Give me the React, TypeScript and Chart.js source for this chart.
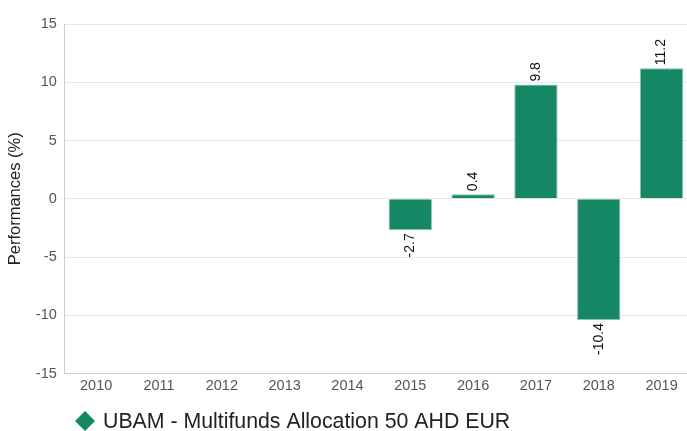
import React, { useEffect, useRef } from "react";
import { Chart, registerables } from "chart.js";

Chart.register(...registerables);

const categories = ["2010", "2011", "2012", "2013", "2014", "2015", "2016", "2017", "2018", "2019"];
const seriesName = "UBAM - Multifunds Allocation 50 AHD EUR";
const seriesValues: (number | null)[] = [null, null, null, null, null, -2.7, 0.4, 9.8, -10.4, 11.2];
const yTicks = [-15, -10, -5, 0, 5, 10, 15];

const FONT = "'Liberation Sans', Arial, sans-serif";
const BAR = "#168765";

const barLabels = {
  id: "barLabels",
  afterDatasetsDraw(chart: any) {
    const ctx = chart.ctx;
    const meta = chart.getDatasetMeta(0);
    const data = chart.data.datasets[0].data;
    ctx.save();
    ctx.font = `14px ${FONT}`;
    ctx.fillStyle = "#111";
    ctx.textBaseline = "middle";
    meta.data.forEach((el: any, i: number) => {
      const v = data[i];
      if (v === null || v === undefined) return;
      const { x, y, base } = el.getProps(["x", "y", "base"], true);
      ctx.save();
      if (v >= 0) {
        ctx.translate(x, Math.min(y, base) - 3);
        ctx.rotate(-Math.PI / 2);
        ctx.textAlign = "left";
      } else {
        ctx.translate(x, Math.max(y, base) + 3);
        ctx.rotate(-Math.PI / 2);
        ctx.textAlign = "right";
      }
      ctx.fillText(String(v), 0, 0);
      ctx.restore();
    });
    ctx.restore();
  },
};

const customLegend = {
  id: "customLegend",
  afterDraw(chart: any) {
    const ctx = chart.ctx;
    const ds = chart.data.datasets[0];
    const cx = 85;
    const cy = 421;
    const r = 10;
    ctx.save();
    ctx.fillStyle = ds.backgroundColor;
    ctx.beginPath();
    ctx.moveTo(cx, cy - r);
    ctx.lineTo(cx + r, cy);
    ctx.lineTo(cx, cy + r);
    ctx.lineTo(cx - r, cy);
    ctx.closePath();
    ctx.fill();
    ctx.fillStyle = "#222";
    ctx.font = `21.3px ${FONT}`;
    ctx.textAlign = "left";
    ctx.textBaseline = "middle";
    ctx.fillText(ds.label, 103, cy + 1);
    ctx.restore();
  },
};

export default function App() {
  const ref = useRef<HTMLCanvasElement | null>(null);
  useEffect(() => {
    if (!ref.current) return;
    const chart = new Chart(ref.current, {
      type: "bar",
      data: {
        labels: categories,
        datasets: [
          {
            label: seriesName,
            data: seriesValues,
            backgroundColor: BAR,
            borderColor: "rgba(120,190,165,0.9)",
            borderWidth: 1,
            categoryPercentage: 1,
            barPercentage: 0.69,
          },
        ],
      },
      options: {
        animation: false,
        responsive: false,
        maintainAspectRatio: false,
        layout: { padding: { top: 24, right: 0, left: 6, bottom: 32 } },
        plugins: {
          tooltip: { enabled: false },
          legend: { display: false },
        },
        scales: {
          x: {
            grid: { display: false, drawTicks: false },
            border: { color: "#cccccc", width: 1 },
            ticks: { color: "#555", font: { family: FONT, size: 14.5 }, padding: 4 },
          },
          y: {
            min: -15,
            max: 15,
            afterBuildTicks: (axis: any) => {
              axis.ticks = yTicks.map((v) => ({ value: v }));
            },
            grid: { color: "#e8e8e8", drawTicks: false },
            border: { color: "#cccccc", width: 1 },
            ticks: { color: "#555", font: { family: FONT, size: 14.5 }, padding: 8 },
            title: {
              display: true,
              text: "Performances (%)",
              color: "#222",
              font: { family: FONT, size: 16.5 },
              padding: { top: 0, bottom: 2 },
            },
          },
        },
      },
      plugins: [barLabels, customLegend],
    });
    return () => chart.destroy();
  }, []);
  return (
    <div style={{ position: "fixed", left: 0, top: 0, width: 687, height: 431, overflow: "hidden", background: "#fff" }}>
      <canvas ref={ref} width={693} height={431} style={{ display: "block" }} />
    </div>
  );
}
